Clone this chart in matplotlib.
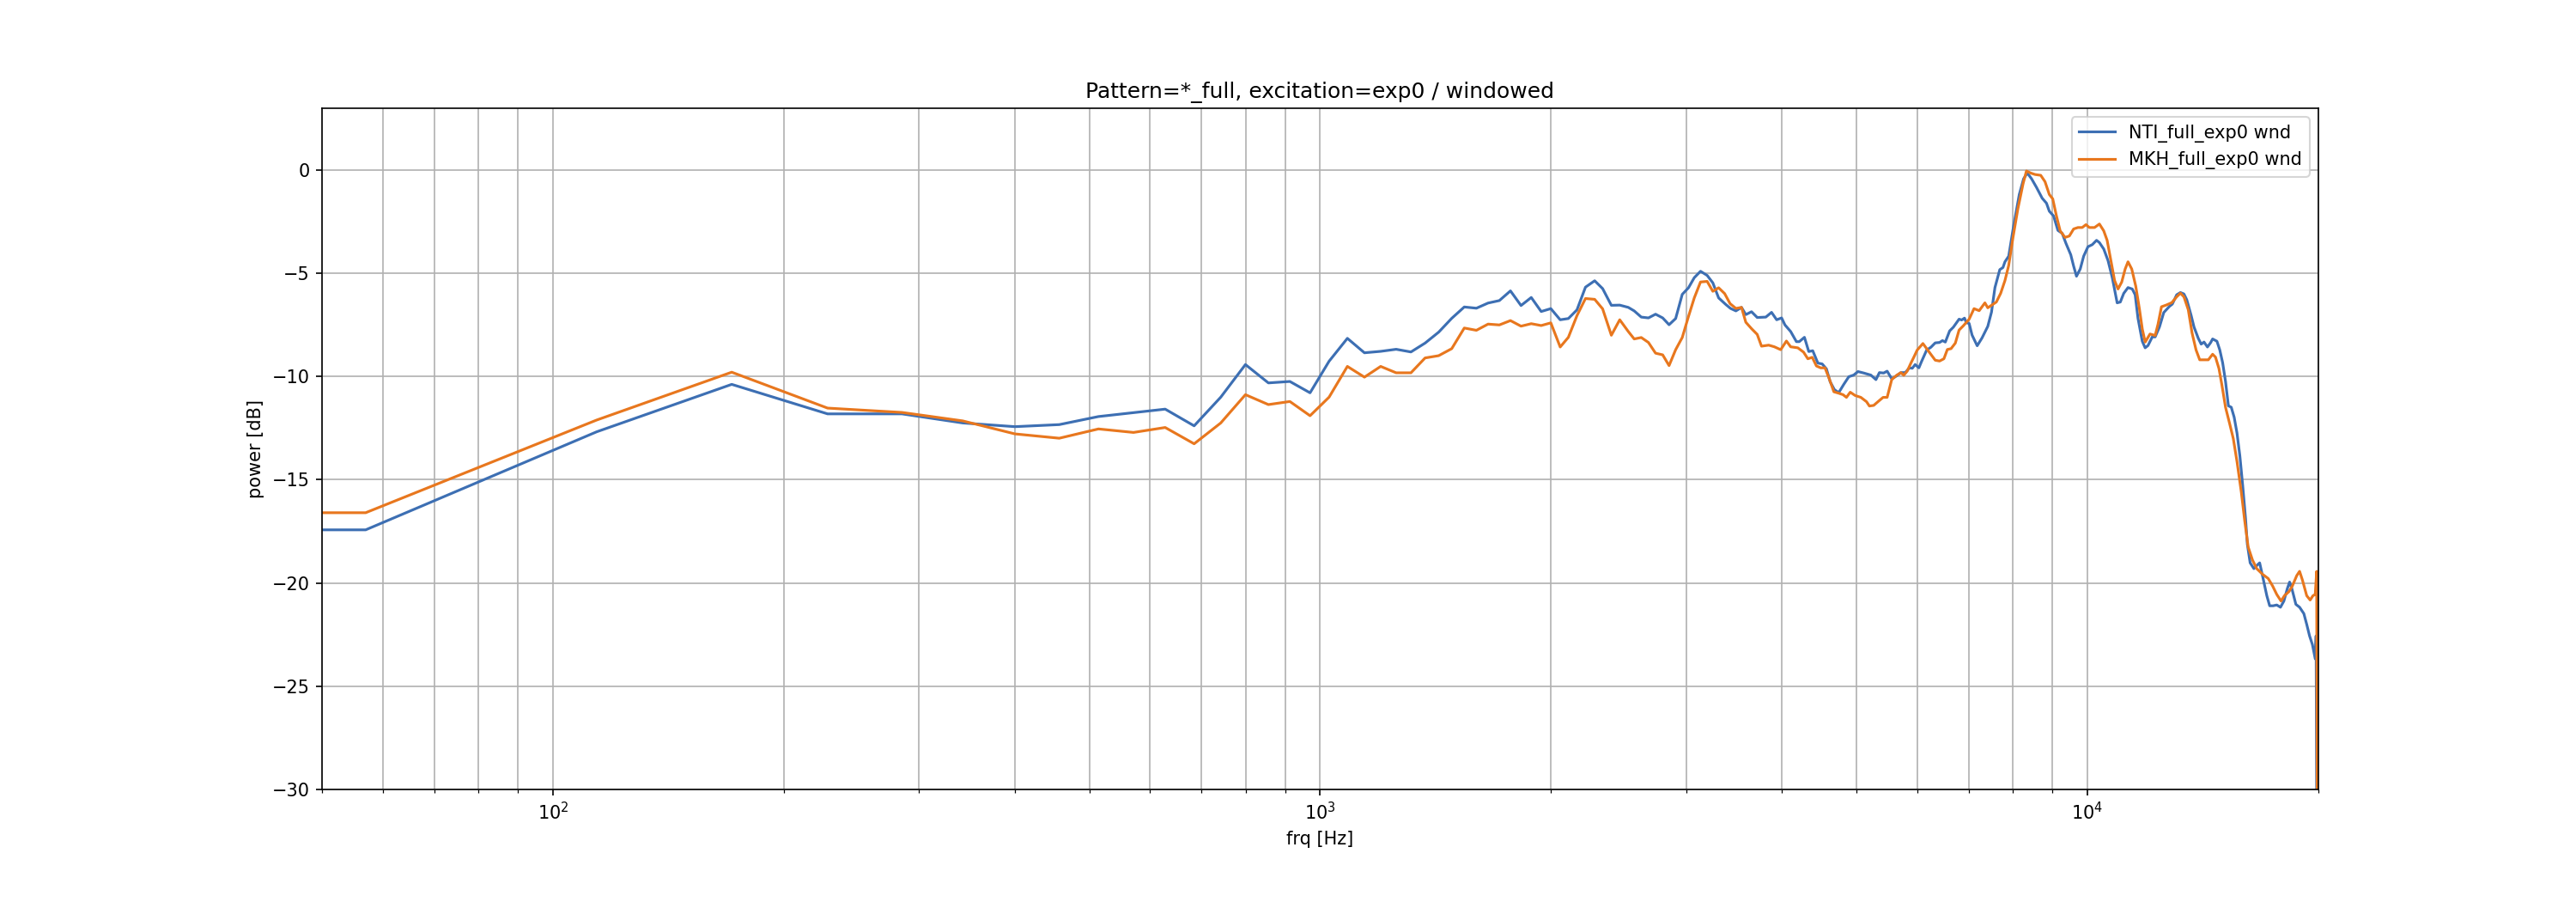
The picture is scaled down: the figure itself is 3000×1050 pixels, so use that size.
import matplotlib
matplotlib.use("Agg")
import matplotlib.pyplot as plt

# values (Hz, dB)
freq_nti = [
    0, 57, 114, 171, 228, 285, 342, 400, 457, 514, 571, 628, 685, 742, 799,
    856, 913, 970, 1027, 1085, 1142, 1199, 1256, 1313, 1370, 1427, 1484, 1541,
    1598, 1655, 1712, 1770, 1827, 1884, 1941, 1998, 2055,
    2106, 2161, 2217, 2279, 2334, 2396, 2457, 2521, 2566, 2621, 2678, 2736,
    2795, 2849, 2906, 2964, 3020, 3073, 3131, 3194, 3249, 3306, 3378, 3426,
    3482, 3541, 3587, 3649, 3712, 3809, 3875, 3935, 3994,
    4034, 4104, 4175, 4211, 4277, 4333, 4385, 4453, 4511, 4569, 4620, 4680,
    4741, 4811, 4886, 4958, 5023, 5110, 5220, 5301, 5356, 5425, 5482, 5558,
    5640, 5713, 5787, 5862, 5912, 5963, 6030, 6077, 6172, 6252, 6333, 6416,
    6472, 6528, 6613, 6687, 6803, 6856, 6915,
    6952, 7012, 7073, 7183, 7288, 7415, 7498, 7576, 7687, 7760, 7807, 7895,
    8012, 8150, 8256, 8349, 8457, 8581, 8730, 8843, 8919, 9034, 9152, 9270,
    9374, 9512, 9594, 9677, 9786, 9887, 10016, 10146, 10277, 10366, 10501,
    10637, 10774, 10933, 11037, 11151, 11295, 11441, 11540,
    11638, 11789, 11891, 11993, 12148, 12254, 12413, 12574, 12791, 12902,
    13071, 13219, 13359, 13473, 13651, 13769, 13947, 14068, 14189, 14336,
    14472, 14560, 14749, 14876, 15004, 15135, 15266, 15398, 15532, 15665,
    15801, 15937, 16074,
    16158, 16296, 16480, 16665, 16767, 16911, 17131, 17279, 17456, 17651,
    17848, 18032, 18218, 18344, 18470, 18693, 18902, 19146, 19311, 19477,
    19644, 19811, 19862, 19960,
]
nti_db = [
    -17.43, -17.43, -12.68, -10.38, -11.81, -11.81, -12.25, -12.43, -12.33,
    -11.94, -11.75, -11.58, -12.39, -11.00, -9.42,
    -10.31, -10.24, -10.79, -9.26, -8.15, -8.85, -8.78, -8.68, -8.81, -8.38,
    -7.85, -7.18, -6.63, -6.69, -6.44, -6.32, -5.85, -6.56, -6.17, -6.85,
    -6.71, -7.25,
    -7.19, -6.77, -5.67, -5.36, -5.74, -6.55, -6.54, -6.65, -6.82, -7.12,
    -7.16, -6.98, -7.16, -7.49, -7.19, -6.02, -5.70, -5.21, -4.90, -5.10,
    -5.46, -6.19, -6.51, -6.70, -6.82, -6.65, -7.00, -6.86, -7.14, -7.12,
    -6.89, -7.25, -7.16,
    -7.50, -7.82, -8.31, -8.31, -8.10, -8.79, -8.75, -9.35, -9.39, -9.63,
    -10.25, -10.64, -10.78, -10.39, -10.01, -9.93, -9.76, -9.83, -9.93,
    -10.15, -9.81, -9.83, -9.74, -10.11, -9.97, -9.81, -9.81, -9.58, -9.60,
    -9.42, -9.58, -9.28, -8.72, -8.58, -8.37, -8.35, -8.26, -8.33, -7.79,
    -7.61, -7.22, -7.26, -7.17,
    -7.39, -7.43, -7.99, -8.51, -8.13, -7.57, -6.88, -5.69, -4.82, -4.72,
    -4.44, -4.17, -2.71, -1.18, -0.42, -0.14, -0.42, -0.83, -1.36, -1.60,
    -1.99, -2.22, -2.92, -3.06, -3.54, -4.10, -4.65, -5.14, -4.79, -4.17,
    -3.71, -3.61, -3.40, -3.51, -3.82, -4.38, -5.21, -6.43, -6.39, -5.97,
    -5.69, -5.76, -6.04,
    -7.18, -8.29, -8.61, -8.50, -8.08, -8.08, -7.60, -6.90, -6.60, -6.49,
    -6.04, -5.93, -6.00, -6.28, -7.04, -7.60, -8.15, -8.43, -8.33, -8.57,
    -8.36, -8.18, -8.29, -8.71, -9.33, -10.24, -11.42, -11.49, -11.97,
    -12.74, -13.85, -15.30, -16.90,
    -18.12, -19.03, -19.31, -19.12, -19.03, -19.65, -20.62, -21.11, -21.11,
    -21.07, -21.18, -20.88, -20.28, -19.96, -20.28, -21.04, -21.18, -21.49,
    -22.01, -22.57, -22.99, -23.68, -22.57, -45.0,
]

freq_mkh = [
    0, 57, 114, 171, 228, 285, 342, 400, 457, 514, 571, 628, 685, 742, 799,
    856, 913, 970, 1027, 1085, 1142, 1199, 1256, 1313, 1370, 1427, 1484, 1541,
    1598, 1655, 1712, 1770, 1827, 1884, 1941, 1998, 2055,
    2106, 2161, 2217, 2279, 2334, 2396, 2457, 2521, 2566, 2621, 2678, 2736,
    2795, 2849, 2906, 2964, 3020, 3073, 3131, 3194, 3249, 3306, 3366, 3422,
    3482, 3541, 3587, 3649, 3712, 3760, 3842, 3908, 3983,
    4052, 4104, 4193, 4266, 4321, 4378, 4434, 4491, 4549, 4608, 4672, 4741,
    4802, 4852, 4907, 4980, 5066, 5153, 5198, 5265, 5333, 5416, 5482, 5558,
    5640, 5713, 5762, 5822, 5887, 5938, 5999, 6103, 6172, 6252, 6333, 6416,
    6500, 6568, 6641, 6727, 6803, 6891,
    7012, 7115, 7226, 7351, 7415, 7511, 7608, 7707, 7807, 7895, 7998, 8115,
    8242, 8327, 8435, 8544, 8692, 8805, 8919, 9011, 9112, 9214, 9350, 9472,
    9594, 9719, 9845, 9955, 10059, 10216, 10366, 10501, 10609, 10728, 10849,
    10961, 11084, 11199, 11295, 11422, 11560, 11690, 11791, 11893,
    12066, 12254, 12360, 12488, 12682, 12880, 13071, 13219, 13359, 13533,
    13687, 13853, 14007, 14189, 14373, 14560, 14686, 14838, 14966, 15135,
    15332, 15492, 15665, 15869, 16033,
    16199, 16409, 16622, 16911, 17205, 17427, 17651, 17879, 18063, 18312,
    18501, 18740, 18902, 19063, 19311, 19511, 19677, 19811, 19896, 19960,
]
mkh_db = [
    -16.60, -16.60, -12.11, -9.79, -11.53, -11.74, -12.15, -12.78, -12.99,
    -12.54, -12.71, -12.47, -13.26, -12.25, -10.88,
    -11.36, -11.21, -11.90, -11.00, -9.51, -10.03, -9.51, -9.82, -9.82,
    -9.10, -8.99, -8.65, -7.65, -7.76, -7.46, -7.50, -7.29, -7.56, -7.44,
    -7.53, -7.40, -8.57,
    -8.10, -7.05, -6.22, -6.26, -6.72, -8.00, -7.25, -7.82, -8.18, -8.11,
    -8.35, -8.87, -8.95, -9.47, -8.70, -8.11, -7.09, -6.19, -5.42, -5.39,
    -5.87, -5.70, -5.98, -6.47, -6.70, -6.65, -7.37, -7.68, -7.96, -8.53,
    -8.48, -8.56, -8.70,
    -8.28, -8.56, -8.61, -8.82, -9.14, -9.07, -9.49, -9.58, -9.58, -10.11,
    -10.74, -10.81, -10.88, -11.01, -10.76, -10.92, -11.01, -11.22, -11.43,
    -11.40, -11.22, -11.01, -11.01, -10.15, -9.94, -9.81, -9.94, -9.74,
    -9.35, -9.07, -8.72, -8.40, -8.65, -8.93, -9.21, -9.25, -9.14, -8.69,
    -8.65, -8.38, -7.75, -7.54,
    -7.22, -6.71, -6.81, -6.43, -6.67, -6.53, -6.39, -5.97, -5.35, -4.62,
    -3.26, -1.88, -0.67, -0.04, -0.14, -0.21, -0.25, -0.56, -1.18, -1.39,
    -2.22, -2.94, -3.26, -3.19, -2.85, -2.78, -2.78, -2.64, -2.78, -2.78,
    -2.61, -2.94, -3.40, -4.38, -5.35, -5.76, -5.42, -4.79, -4.44, -4.79,
    -5.62, -6.74, -7.71, -8.33,
    -7.94, -8.01, -7.46, -6.62, -6.53, -6.42, -6.14, -5.96, -6.14, -6.76,
    -7.88, -8.71, -9.19, -9.19, -9.19, -8.92, -9.06, -9.61, -10.38, -11.49,
    -12.32, -13.01, -14.12, -15.60, -17.00,
    -18.26, -18.89, -19.31, -19.58, -19.79, -20.14, -20.56, -20.88, -20.62,
    -20.42, -20.14, -19.65, -19.44, -19.86, -20.62, -20.83, -20.62, -20.56,
    -19.44, -45.0,
]

labels = ["NTI_full_exp0 wnd", "MKH_full_exp0 wnd"]
colors = ["#3d6fb3", "#e8771e"]

fig, ax = plt.subplots(figsize=(20, 7), dpi=150)
fig.subplots_adjust(left=0.125, right=0.9, bottom=0.125, top=0.88)

ax.plot(freq_nti, nti_db, color=colors[0], linewidth=1.5, label=labels[0])
ax.plot(freq_mkh, mkh_db, color=colors[1], linewidth=1.5, label=labels[1])

ax.set_xscale("log")
ax.set_xlim(50, 20000)
ax.set_ylim(-30, 3)
ax.grid(True, which="both")
ax.set_xlabel("frq [Hz]")
ax.set_ylabel("power [dB]")
ax.set_title("Pattern=*_full, excitation=exp0 / windowed")
ax.legend(loc="upper right")

fig.savefig("out.png", dpi=150)
